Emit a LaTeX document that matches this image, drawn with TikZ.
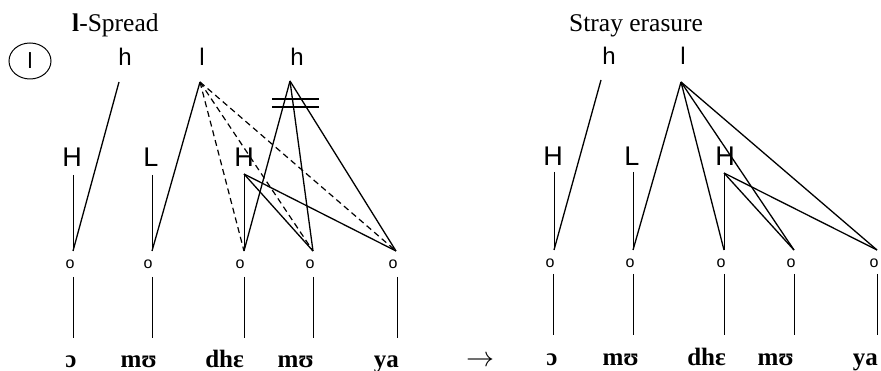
\documentclass[tikz,border=0pt]{standalone}
\usepackage{fontspec}
\usepackage{graphicx}
\setmainfont{Liberation Serif}
\newfontfamily\tonefont{Liberation Sans}
\usetikzlibrary{shapes.geometric}
\begin{document}
\begin{tikzpicture}[x=1pt,y=-1pt,
  assoc/.style={line width=1.3pt},
  stem/.style={line width=1pt},
  spreadline/.style={line width=1.2pt, dash pattern=on 6pt off 4pt},
  barline/.style={line width=1.1pt},
  toneH/.style={font=\tonefont\fontsize{27}{27}\selectfont, inner sep=0pt, anchor=base},
  toneh/.style={font=\tonefont\fontsize{24}{24}\selectfont, inner sep=0pt, anchor=base},
  mora/.style={font=\tonefont\fontsize{16}{16}\selectfont, inner sep=0pt, anchor=base},
  sylE/.style={font=\bfseries\fontsize{25}{25}\selectfont, inner sep=0pt, anchor=base east},
  sylC/.style={font=\bfseries\fontsize{25}{25}\selectfont, inner sep=0pt, anchor=base},
  titletext/.style={font=\fontsize{25.5}{25.5}\selectfont, inner sep=0pt, anchor=base west}]
\useasboundingbox (0,0) rectangle (881,371);

% ---------------- left panel ----------------
\node[titletext] (t1) at (72,32) {\textbf{l}-Spread};
\node[draw, ellipse, line width=1pt, minimum width=42pt, minimum height=36pt, inner sep=0pt,
      font=\tonefont\fontsize{22}{22}\selectfont] (circ) at (30,61) {l};

\node[toneh] (h1) at (125,66) {h};
\node[toneh] (l1) at (202,66) {l};
\node[toneh] (h2) at (297,66) {h};
\node[toneH] (H1) at (72,167) {H};
\node[toneH] (L1) at (151,167) {L};
\node[toneH] (H3) at (244,167) {H};

\coordinate (h1b) at (119,82);
\coordinate (l1b) at (200,82);
\coordinate (h2b) at (290,81);
\coordinate (H1b) at (73,175);
\coordinate (L1b) at (152,175);
\coordinate (H3b) at (244,174);
\coordinate (a1) at (73,251);
\coordinate (a2) at (152,251);
\coordinate (a3) at (244,251);
\coordinate (a4) at (313,251);
\coordinate (a5) at (396,251);

\draw[stem] (H1b) -- (a1);
\draw[stem] (L1b) -- (a2);
\draw[stem] (H3b) -- (a3);
\draw[assoc] (h1b) -- (a1);
\draw[assoc] (l1b) -- (a2);
\draw[spreadline] (l1b) -- (a3);
\draw[spreadline] (l1b) -- (a4);
\draw[spreadline] (l1b) -- (a5);
\draw[assoc] (h2b) -- (a3);
\draw[assoc] (h2b) -- (a4);
\draw[assoc] (h2b) -- (a5);
\draw[assoc] (H3b) -- (a4);
\draw[assoc] (H3b) -- (a5);

\coordinate (bar1l) at (272,99);
\coordinate (bar1r) at (319,99);
\coordinate (bar2l) at (272,107);
\coordinate (bar2r) at (319,107);
\draw[barline] (bar1l) -- (bar1r);
\draw[barline] (bar2l) -- (bar2r);

\node[mora] (m1) at (70,269) {o};
\node[mora] (m2) at (148,269) {o};
\node[mora] (m3) at (240,269) {o};
\node[mora] (m4) at (310,269) {o};
\node[mora] (m5) at (393,269) {o};

\foreach \i/\x in {1/73,2/152,3/244,4/313,5/397}{
  \coordinate (u\i) at (\x,277);
  \coordinate (d\i) at (\x,338);
  \draw[stem] (u\i) -- (d\i);
}

\node[sylC] (s1) at (71,367) {ɔ};
\node[sylE] (s2) at (157,367) {mʊ};
\node[sylE] (s3) at (244,367) {dhɛ};
\node[sylE] (s4) at (314,367) {mʊ};
\node[sylE] (s5) at (399,367) {ya};

\node[inner sep=0pt] (arr) at (480,361) {\scalebox{2.8}{$\rightarrow$}};

% ---------------- right panel ----------------
\node[titletext] (t2) at (569,32) {Stray erasure};

\node[toneh] (rh1) at (609,65) {h};
\node[toneh] (rl1) at (683,65) {l};
\node[toneH] (rH1) at (553,166) {H};
\node[toneH] (rL1) at (632,166) {L};
\node[toneH] (rH3) at (725,166) {H};

\coordinate (rh1b) at (601,80);
\coordinate (rl1b) at (681,82);
\coordinate (rH1b) at (554,172);
\coordinate (rL1b) at (633,172);
\coordinate (rH3b) at (724,173);
\coordinate (ra1) at (554,250);
\coordinate (ra2) at (633,250);
\coordinate (ra3) at (724,250);
\coordinate (ra4) at (794,250);
\coordinate (ra5) at (877,250);

\draw[stem] (rH1b) -- (ra1);
\draw[stem] (rL1b) -- (ra2);
\draw[stem] (rH3b) -- (ra3);
\draw[assoc] (rh1b) -- (ra1);
\draw[assoc] (rl1b) -- (ra2);
\draw[assoc] (rl1b) -- (ra3);
\draw[assoc] (rl1b) -- (ra4);
\draw[assoc] (rl1b) -- (ra5);
\draw[assoc] (rH3b) -- (ra4);
\draw[assoc] (rH3b) -- (ra5);

\node[mora] (rm1) at (550,268) {o};
\node[mora] (rm2) at (630,268) {o};
\node[mora] (rm3) at (721,268) {o};
\node[mora] (rm4) at (791,268) {o};
\node[mora] (rm5) at (874,268) {o};

\foreach \i/\x in {1/553,2/633,3/724,4/794,5/877}{
  \coordinate (ru\i) at (\x,274);
  \coordinate (rd\i) at (\x,335);
  \draw[stem] (ru\i) -- (rd\i);
}

\node[sylC] (rs1) at (552,366) {ɔ};
\node[sylE] (rs2) at (639,366) {mʊ};
\node[sylE] (rs3) at (726,366) {dhɛ};
\node[sylE] (rs4) at (794,366) {mʊ};
\node[sylE] (rs5) at (878,366) {ya};
\end{tikzpicture}
\end{document}
